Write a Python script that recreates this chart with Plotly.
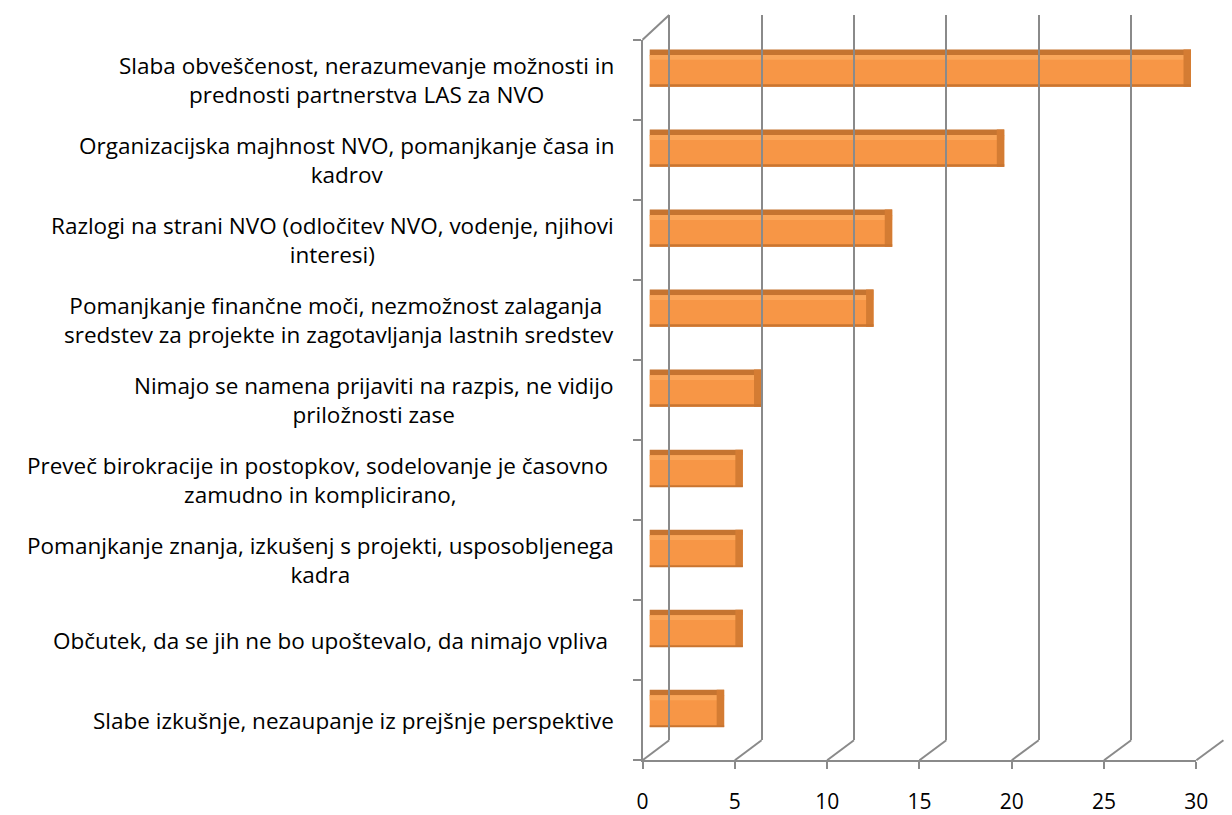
import plotly.graph_objects as go

# ---------------- data ----------------
categories = [
    "Slaba obveščenost, nerazumevanje možnosti in<br>prednosti partnerstva LAS za NVO",
    "Organizacijska majhnost NVO, pomanjkanje časa in<br>kadrov",
    "Razlogi na strani NVO (odločitev NVO, vodenje, njihovi<br>interesi)",
    "Pomanjkanje finančne moči, nezmožnost zalaganja\u00a0<br>sredstev za projekte in zagotavljanja lastnih sredstev",
    "Nimajo se namena prijaviti na razpis, ne vidijo<br>priložnosti zase",
    "Preveč birokracije in postopkov, sodelovanje je časovno\u00a0<br>zamudno in komplicirano,",
    "Pomanjkanje znanja, izkušenj s projekti, usposobljenega<br>kadra",
    "Občutek, da se jih ne bo upoštevalo, da nimajo vpliva\u00a0",
    "Slabe izkušnje, nezaupanje iz prejšnje perspektive",
]
values = [29, 19, 13, 12, 6, 5, 5, 5, 4]
x_ticks = [0, 5, 10, 15, 20, 25, 30]

# ---------------- geometry helpers (pixels -> paper) ----------------
W, H = 1232, 815
def px(x):
    return x / W
def py(y):
    return 1 - y / H

FONT = "Open Sans"
GRAY = "#8a8a8a"

FX0, FX1 = 646, 1208          # front floor edge 0..30
BX0, BSTEP = 673, 18.75       # back wall
BMAX = 29.6
FRONT_Y, BACK_Y = 763, 743
TOP_FRONT, TOP_BACK = 40, 15

n = len(categories)
idx = list(range(n))

fig = go.Figure()

# back wall (gridlines)
fig.add_trace(go.Scatter(x=[0], y=[0], xaxis="x3", yaxis="y3", mode="markers",
                         marker=dict(opacity=0), hoverinfo="skip", showlegend=False))
# front axes
fig.add_trace(go.Scatter(x=[0], y=[0], xaxis="x2", yaxis="y2", mode="markers",
                         marker=dict(opacity=0), hoverinfo="skip", showlegend=False))

# bars: top face, front face, highlight, end bevel, bottom edge
fig.add_trace(go.Bar(y=idx, x=values, orientation="h", offset=-0.235, width=0.075,
                     marker=dict(color="#C57430", line=dict(width=0)),
                     hoverinfo="skip", showlegend=False))
fig.add_trace(go.Bar(y=idx, x=values, orientation="h", offset=-0.165, width=0.395,
                     marker=dict(color="#F79646", line=dict(width=0)),
                     hovertemplate="%{x}<extra></extra>", showlegend=False))
fig.add_trace(go.Bar(y=idx, x=values, orientation="h", offset=-0.165, width=0.06,
                     marker=dict(color="#FAA65A", line=dict(width=0)),
                     hoverinfo="skip", showlegend=False))
fig.add_trace(go.Bar(y=idx, x=[0.4] * n, base=[v - 0.4 for v in values], orientation="h",
                     offset=-0.235, width=0.465,
                     marker=dict(color="#D47C33", line=dict(width=0)),
                     hoverinfo="skip", showlegend=False))
fig.add_trace(go.Bar(y=idx, x=values, orientation="h", offset=0.21, width=0.02,
                     marker=dict(color="#C97530", line=dict(width=0)),
                     hoverinfo="skip", showlegend=False))

# bar axes
BAR_X0, BAR_STEP = 653, 18.95
BAR_C0, CAT = 68.5, (FRONT_Y - TOP_FRONT) / n
fig.update_layout(
    barmode="overlay",
    xaxis=dict(domain=[px(BAR_X0), px(BAR_X0 + BAR_STEP * 30)], range=[0, 30],
               visible=False, anchor="y"),
    yaxis=dict(domain=[py(BAR_C0 - CAT / 2 + CAT * n), py(BAR_C0 - CAT / 2)],
               range=[n - 0.5, -0.5], visible=False, anchor="x"),
    xaxis2=dict(domain=[px(FX0), px(FX1)], range=[0, 30], anchor="y2",
                tickvals=x_ticks, ticks="outside", ticklen=7, tickwidth=2,
                tickcolor=GRAY, showline=True, linecolor=GRAY, linewidth=2,
                showgrid=False, zeroline=False, ticklabelstandoff=15,
                tickfont=dict(family=FONT, size=21, color="#000000")),
    yaxis2=dict(domain=[py(FRONT_Y), py(TOP_FRONT)], range=[n, 0], anchor="x2",
                tick0=0, dtick=1, ticks="outside", ticklen=8, tickwidth=2,
                tickcolor=GRAY, showline=True, linecolor=GRAY, linewidth=2,
                showgrid=False, zeroline=False, showticklabels=False),
    xaxis3=dict(domain=[px(BX0), px(BX0 + BSTEP * BMAX)], range=[0, BMAX], anchor="y3",
                tick0=0, dtick=5, showgrid=True, gridcolor=GRAY, gridwidth=2,
                zeroline=True, zerolinecolor=GRAY, zerolinewidth=2,
                showticklabels=False, ticks="", showline=False),
    yaxis3=dict(domain=[py(BACK_Y), py(TOP_BACK)], range=[0, 1], anchor="x3",
                visible=False, showgrid=False, zeroline=False),
)

# depth (floor) lines and top-left wall edge
shapes = []
for v in x_ticks:
    fx = FX0 + (FX1 - FX0) * v / 30
    bx = BX0 + BSTEP * v
    shapes.append(dict(type="line", xref="paper", yref="paper",
                       x0=px(fx), y0=py(FRONT_Y), x1=px(bx), y1=py(BACK_Y),
                       line=dict(color=GRAY, width=2), layer="below"))
shapes.append(dict(type="line", xref="paper", yref="paper",
                   x0=px(FX0), y0=py(TOP_FRONT), x1=px(BX0), y1=py(TOP_BACK),
                   line=dict(color=GRAY, width=2), layer="below"))

# category labels
annotations = []
for i, c in enumerate(categories):
    annotations.append(dict(text=c, xref="paper", yref="y2", x=px(619), y=i + 0.5,
                            xanchor="right", yanchor="middle", align="center",
                            showarrow=False,
                            font=dict(family=FONT, size=22.5, color="#000000")))

fig.update_layout(
    width=W, height=H,
    margin=dict(l=0, r=0, t=0, b=0),
    paper_bgcolor="white", plot_bgcolor="rgba(0,0,0,0)",
    shapes=shapes, annotations=annotations, showlegend=False,
)

fig.write_html("out.html", config={"displayModeBar": False},
               post_script="document.body.style.margin='0';document.body.style.overflow='hidden';")
